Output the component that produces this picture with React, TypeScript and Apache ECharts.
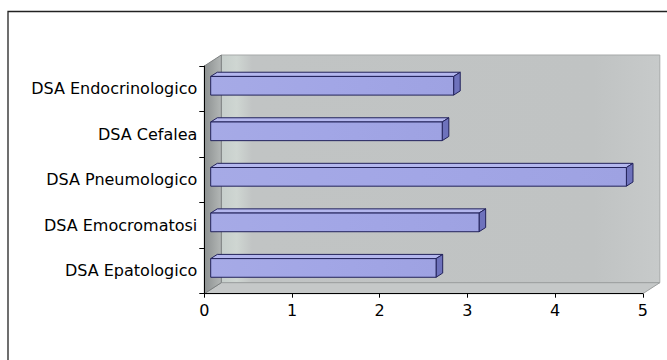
import React, { useEffect, useRef } from "react";
import * as echarts from "echarts";

const categories = [
  "DSA Epatologico",
  "DSA Emocromatosi",
  "DSA Pneumologico",
  "DSA Cefalea",
  "DSA Endocrinologico",
];
const values = [2.57, 3.06, 4.74, 2.64, 2.77];
const xTicks = [0, 1, 2, 3, 4, 5];

const DEPTH_X = 17;
const DEPTH_Y = -11;

export default function App() {
  const ref = useRef<HTMLDivElement>(null);
  useEffect(() => {
    if (!ref.current) return;
    const chart = echarts.init(ref.current, undefined, { renderer: "svg" });
    const font = "DejaVu Sans";
    const option: any = {
      animation: false,
      backgroundColor: "#ffffff",
      grid: { left: 204.3, right: 24.2, top: 66, bottom: 66.3, containLabel: false },
      xAxis: {
        type: "value",
        min: xTicks[0],
        max: xTicks[xTicks.length - 1],
        interval: 1,
        z: 10,
        axisLine: { show: true, lineStyle: { color: "#000", width: 1 } },
        axisTick: { show: true, length: 4, lineStyle: { color: "#000" } },
        splitLine: { show: false },
        axisLabel: { color: "#000", fontFamily: font, fontSize: 16, margin: 9 },
      },
      yAxis: {
        type: "category",
        data: categories,
        z: 10,
        axisLine: { show: true, lineStyle: { color: "#000", width: 1 } },
        axisTick: { show: true, length: 5, lineStyle: { color: "#000" } },
        splitLine: { show: false },
        axisLabel: { color: "#000", fontFamily: font, fontSize: 16, margin: 7 },
      },
      graphic: [
        {
          type: "rect",
          shape: { x: 8, y: 11.5, width: 720, height: 400 },
          style: { fill: "none", stroke: "#222", lineWidth: 1.3 },
          z: 0,
          silent: true,
        },
      ],
      series: [
        {
          type: "custom",
          z: 1,
          silent: true,
          data: [[0, 0]],
          renderItem: (params: any) => {
            const cs = params.coordSys;
            const x0 = cs.x, y0 = cs.y, x1 = cs.x + cs.width, y1 = cs.y + cs.height;
            return {
              type: "group",
              children: [
                {
                  type: "rect",
                  shape: { x: x0 + DEPTH_X, y: y0 + DEPTH_Y, width: cs.width, height: cs.height },
                  style: {
                    fill: new echarts.graphic.LinearGradient(0, 0, 1, 0, [
                      { offset: 0, color: "#c6cecb" },
                      { offset: 0.035, color: "#cfd6d2" },
                      { offset: 0.07, color: "#c1c4c4" },
                      { offset: 0.85, color: "#c0c3c3" },
                      { offset: 1, color: "#c7caca" },
                    ]),
                    stroke: "#a6a9a9",
                    lineWidth: 1,
                  },
                },
                {
                  type: "polygon",
                  shape: {
                    points: [
                      [x0, y1],
                      [x1, y1],
                      [x1 + DEPTH_X, y1 + DEPTH_Y],
                      [x0 + DEPTH_X, y1 + DEPTH_Y],
                    ],
                  },
                  style: { fill: "#c5c8c8", stroke: "#9c9f9f", lineWidth: 1 },
                },
                {
                  type: "polygon",
                  shape: {
                    points: [
                      [x0, y0],
                      [x0 + DEPTH_X, y0 + DEPTH_Y],
                      [x0 + DEPTH_X, y1 + DEPTH_Y],
                      [x0, y1],
                    ],
                  },
                  style: {
                    fill: new echarts.graphic.LinearGradient(0, 0, 1, 0, [
                      { offset: 0, color: "#8c9090" },
                      { offset: 1, color: "#b3b7b6" },
                    ]),
                    stroke: "#7c8080",
                    lineWidth: 1,
                  },
                },
              ],
            };
          },
        },
        {
          type: "custom",
          z: 3,
          data: values.map((v, i) => [v, i]),
          encode: { x: 0, y: 1 },
          renderItem: (params: any, api: any) => {
            const v = api.value(0);
            const idx = api.value(1);
            const p0 = api.coord([0, idx]);
            const p1 = api.coord([v, idx]);
            const band = api.size([0, 1])[1];
            const h = band * 0.41;
            const fx = 6.4, fy = -3;
            const bx = 6.6, by = -4.2;
            const xa = p0[0] + fx;
            const xb = p1[0] + fx;
            const yc = p0[1] + fy;
            const yt = yc - h / 2;
            const yb = yc + h / 2;
            const stroke = "#22225a";
            return {
              type: "group",
              children: [
                {
                  type: "polygon",
                  shape: { points: [[xa, yt], [xb, yt], [xb + bx, yt + by], [xa + bx, yt + by]] },
                  style: { fill: "#b4b7ee", stroke, lineWidth: 1 },
                },
                {
                  type: "polygon",
                  shape: { points: [[xb, yt], [xb + bx, yt + by], [xb + bx, yb + by], [xb, yb]] },
                  style: { fill: "#6e72bc", stroke, lineWidth: 1 },
                },
                {
                  type: "rect",
                  shape: { x: xa, y: yt, width: xb - xa, height: h },
                  style: {
                    fill: new echarts.graphic.LinearGradient(0, 0, 1, 0, [
                      { offset: 0, color: "#a6aae6" },
                      { offset: 0.5, color: "#a2a6e6" },
                      { offset: 1, color: "#9ea2e2" },
                    ]),
                    stroke,
                    lineWidth: 1,
                  },
                },
              ],
            };
          },
        },
      ],
    };
    chart.setOption(option);
    return () => chart.dispose();
  }, []);
  return (
    <div
      ref={ref}
      style={{ position: "fixed", left: 0, top: 0, width: 667, height: 360 }}
    />
  );
}
